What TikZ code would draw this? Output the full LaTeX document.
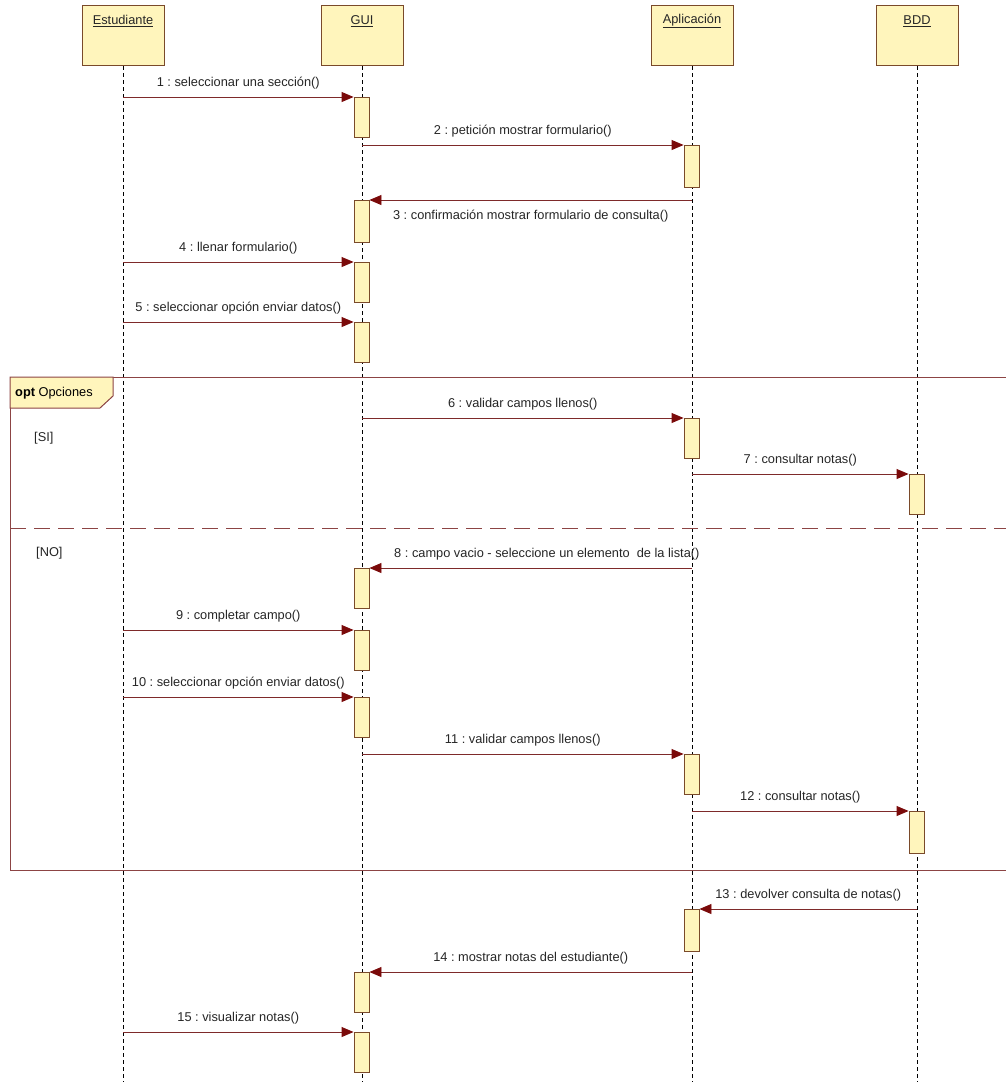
\documentclass[tikz,border=0pt]{standalone}
\usepackage{fontspec}
\setmainfont{Liberation Sans}
\usetikzlibrary{arrows.meta}
\frenchspacing
\definecolor{boxfill}{HTML}{FFF5BC}
\definecolor{boxline}{HTML}{7A4A2A}
\definecolor{msgcol}{HTML}{7E2A2A}
\definecolor{headcol}{HTML}{7A0A0A}
\definecolor{framecol}{HTML}{8C4444}
\tikzset{
  x=1pt, y=-1pt,
  head/.style={draw=boxline, fill=boxfill, line width=1pt, minimum width=82pt, minimum height=60pt, inner sep=0pt, anchor=north},
  htext/.style={font=\fontsize{12.8}{14}\selectfont, inner sep=0pt, text=black!85},
  act/.style={draw=boxline, fill=boxfill, line width=0.9pt, minimum width=15pt, minimum height=40pt, inner sep=0pt, anchor=north},
  life/.style={draw=black, line width=0.7pt, dash pattern=on 4pt off 3pt},
  msg/.style={draw=msgcol, line width=0.9pt, -{Triangle[length=12pt,width=10pt,fill=headcol,color=headcol]}},
  lbl/.style={font=\fontsize{12.8}{14}\selectfont, inner sep=0pt, text=black!85},
  guard/.style={font=\fontsize{12.8}{14}\selectfont, inner sep=0pt, text=black!85},
  frameline/.style={draw=framecol, line width=1pt},
}
\begin{document}
\begin{tikzpicture}
\useasboundingbox (0,0) rectangle (1006,1082);
\clip (0,0) rectangle (1006,1082);
\fill[white] (0,0) rectangle (1006,1082);
% lifeline heads
\node[head] (est) at (123,5) {};
\node[head] (gui) at (362,5) {};
\node[head] (app) at (692,5) {};
\node[head] (bdd) at (917,5) {};
\node[htext] (estt) at (123,21) {\underline{Estudiante}};
\node[htext] (guit) at (362,21) {\underline{GUI}};
\node[htext] (appt) at (692,21) {\underline{Aplicación}};
\node[htext] (bddt) at (917,21) {\underline{BDD}};
% lifeline ends
\coordinate (estE) at (123,1082);
\coordinate (guiE) at (362,1082);
\coordinate (appE) at (692,1082);
\coordinate (bddE) at (917,1082);
\draw[life] (est.south) -- (estE);
\draw[life] (gui.south) -- (guiE);
\draw[life] (app.south) -- (appE);
\draw[life] (bdd.south) -- (bddE);
% combined fragment
\draw[frameline] (10,377) rectangle (1020,870);
\draw[frameline, dash pattern=on 16pt off 8pt] (10,528) -- (1006,528);
\draw[frameline, fill=boxfill] (10,377) -- (113,377) -- (113,396) -- (100,408) -- (10,408) -- cycle;
\node[anchor=west, font=\fontsize{12.8}{14}\selectfont, inner sep=0pt] (optl) at (15,393) {\textbf{opt} Opciones};
\node[guard, anchor=west] (gsi) at (34,438) {[SI]};
\node[guard, anchor=west] (gno) at (36,553) {[NO]};
% activations
\node[act] (a1) at (361.5,97) {};
\node[act, minimum height=42pt] (a2) at (691.5,145) {};
\node[act, minimum height=42pt] (a3) at (361.5,200) {};
\node[act] (a4) at (361.5,262) {};
\node[act] (a5) at (361.5,322) {};
\node[act] (a6) at (691.5,418) {};
\node[act] (a7) at (916.5,474) {};
\node[act] (a8) at (361.5,568) {};
\node[act] (a9) at (361.5,630) {};
\node[act] (a10) at (361.5,697) {};
\node[act] (a11) at (691.5,754) {};
\node[act, minimum height=42pt] (a12) at (916.5,811) {};
\node[act, minimum height=42pt] (a13) at (691.5,909) {};
\node[act] (a14) at (361.5,972) {};
\node[act] (a15) at (361.5,1032) {};
% message start points on lifelines
\coordinate (s1) at (123,97);
\coordinate (s2) at (362,145);
\coordinate (s3) at (692,200);
\coordinate (s4) at (123,262);
\coordinate (s5) at (123,322);
\coordinate (s6) at (362,418);
\coordinate (s7) at (692,474);
\coordinate (s8) at (692,568);
\coordinate (s9) at (123,630);
\coordinate (s10) at (123,697);
\coordinate (s11) at (362,754);
\coordinate (s12) at (692,811);
\coordinate (s13) at (917,909);
\coordinate (s14) at (692,972);
\coordinate (s15) at (123,1032);
% messages
\draw[msg] (s1) -- (a1.north west) node[lbl, midway, above=7pt] {1 : seleccionar una sección()};
\draw[msg] (s2) -- (a2.north west) node[lbl, midway, above=7pt] {2 : petición mostrar formulario()};
\draw[msg] (s3) -- (a3.north east) node[lbl, midway, below=10pt] {3 : confirmación mostrar formulario de consulta()};
\draw[msg] (s4) -- (a4.north west) node[lbl, midway, above=7pt] {4 : llenar formulario()};
\draw[msg] (s5) -- (a5.north west) node[lbl, midway, above=7pt] {5 : seleccionar opción enviar datos()};
\draw[msg] (s6) -- (a6.north west) node[lbl, midway, above=7pt] {6 : validar campos llenos()};
\draw[msg] (s7) -- (a7.north west) node[lbl, midway, above=7pt] {7 : consultar notas()};
\draw[msg] (s8) -- (a8.north east) node[lbl, pos=0.45, above=7pt] {8 : campo vacio - seleccione un elemento \ de la lista()};
\draw[msg] (s9) -- (a9.north west) node[lbl, midway, above=7pt] {9 : completar campo()};
\draw[msg] (s10) -- (a10.north west) node[lbl, midway, above=7pt] {10 : seleccionar opción enviar datos()};
\draw[msg] (s11) -- (a11.north west) node[lbl, midway, above=7pt] {11 : validar campos llenos()};
\draw[msg] (s12) -- (a12.north west) node[lbl, midway, above=7pt] {12 : consultar notas()};
\draw[msg] (s13) -- (a13.north east) node[lbl, midway, above=7pt] {13 : devolver consulta de notas()};
\draw[msg] (s14) -- (a14.north east) node[lbl, midway, above=7pt] {14 : mostrar notas del estudiante()};
\draw[msg] (s15) -- (a15.north west) node[lbl, midway, above=7pt] {15 : visualizar notas()};
\end{tikzpicture}
\end{document}
